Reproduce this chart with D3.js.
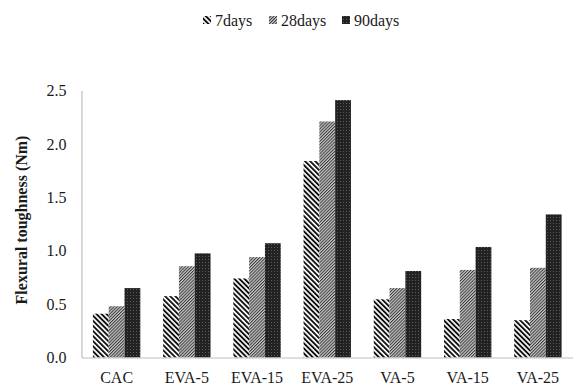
<!DOCTYPE html>
<html>
<head>
<meta charset="utf-8">
<script src="https://cdn.jsdelivr.net/npm/d3@7/dist/d3.min.js"></script>
<style>
  html, body { margin: 0; padding: 0; background: #fff; }
  svg { display: block; }
  svg text { font-family: "Liberation Serif", "Times New Roman", Times, serif !important; fill: #1a1a1a; }
</style>
</head>
<body>
<svg id="chart" width="573" height="385" font-family="Liberation Serif, serif"></svg>
<script>
// Mixes and curing ages
const categories = ["CAC", "EVA-5", "EVA-15", "EVA-25", "VA-5", "VA-15", "VA-25"];
const seriesNames = ["7days", "28days", "90days"];

// Flexural toughness (Nm) per mix for each age
const days7  = [0.41, 0.575, 0.74, 1.84, 0.545, 0.36, 0.35];
const days28 = [0.48, 0.855, 0.94, 2.21, 0.65, 0.82, 0.84];
const days90 = [0.65, 0.975, 1.07, 2.41, 0.81, 1.035, 1.34];

const yTicks = [0, 0.5, 1.0, 1.5, 2.0, 2.5];
const yTitle = "Flexural toughness (Nm)";

const seriesValues = [days7, days28, days90];
const fills = ["url(#p7)", "url(#p28)", "url(#p90)"];
const serif = "Liberation Serif, Times New Roman, serif";

const svg = d3.select("#chart");
const defs = svg.append("defs");

// 7 days: bold black stripes running top-left to bottom-right
const p7 = defs.append("pattern").attr("id", "p7")
  .attr("patternUnits", "userSpaceOnUse").attr("width", 3.6).attr("height", 3.6)
  .attr("patternTransform", "rotate(-45)");
p7.append("rect").attr("width", 3.6).attr("height", 3.6).attr("fill", "#fff");
p7.append("rect").attr("width", 1.9).attr("height", 3.6).attr("fill", "#111");

// 28 days: fine hatch that reads as mid grey
const p28 = defs.append("pattern").attr("id", "p28")
  .attr("patternUnits", "userSpaceOnUse").attr("width", 2.2).attr("height", 2.2)
  .attr("patternTransform", "rotate(45)");
p28.append("rect").attr("width", 2.2).attr("height", 2.2).attr("fill", "#c8c8c8");
p28.append("rect").attr("width", 1.0).attr("height", 2.2).attr("fill", "#3a3a3a");

// 90 days: dark fill with a faint dot grid
const p90 = defs.append("pattern").attr("id", "p90")
  .attr("patternUnits", "userSpaceOnUse").attr("width", 3).attr("height", 3);
p90.append("rect").attr("width", 3).attr("height", 3).attr("fill", "#222");
p90.append("rect").attr("x", 1).attr("y", 1).attr("width", 1).attr("height", 1).attr("fill", "#5a5a5a");

const x = d3.scaleBand().domain(categories).range([81.5, 573])
  .paddingInner(0.325).paddingOuter(0.1625);
const xs = d3.scaleBand().domain(seriesNames).range([0, x.bandwidth()]).padding(0);
const y = d3.scaleLinear().domain([0, 2.5]).range([357.5, 90.5]);

// Bars
seriesNames.forEach((name, si) => {
  svg.append("g").selectAll("rect")
    .data(seriesValues[si])
    .join("rect")
    .attr("x", (d, i) => x(categories[i]) + xs(name))
    .attr("y", d => y(d))
    .attr("width", xs.bandwidth())
    .attr("height", d => y(0) - y(d))
    .attr("fill", fills[si]);
});

// Y axis
const yAxis = svg.append("g").attr("transform", "translate(81.5,0)")
  .call(d3.axisLeft(y).tickValues(yTicks).tickFormat(d3.format(".1f"))
    .tickSize(0).tickPadding(15))
  .attr("font-family", serif).attr("font-size", 16);
yAxis.select(".domain").attr("stroke", "#bfbfbf").attr("stroke-width", 1.2);
yAxis.selectAll("text").attr("fill", "#1a1a1a");

// X axis
const xAxis = svg.append("g").attr("transform", "translate(0,357.5)")
  .call(d3.axisBottom(x).tickSize(0).tickPadding(14).tickSizeOuter(0))
  .attr("font-family", serif).attr("font-size", 16);
xAxis.select(".domain").attr("stroke", "#bfbfbf").attr("stroke-width", 1.2);
xAxis.selectAll("text").attr("fill", "#1a1a1a");

// Y axis title
svg.append("text")
  .attr("transform", "translate(27,220) rotate(-90)")
  .attr("text-anchor", "middle")
  .attr("font-family", serif)
  .attr("font-size", 16).attr("font-weight", "bold")
  .text(yTitle);

// Legend
const legendX = [203, 269, 342];
const legend = svg.append("g").attr("font-family", serif);
seriesNames.forEach((name, si) => {
  legend.append("rect")
    .attr("x", legendX[si]).attr("y", 16)
    .attr("width", 8).attr("height", 8)
    .attr("fill", fills[si]);
  legend.append("text")
    .attr("x", legendX[si] + 12).attr("y", 25.5)
    .attr("font-size", 16)
    .text(name);
});
</script>
</body>
</html>
